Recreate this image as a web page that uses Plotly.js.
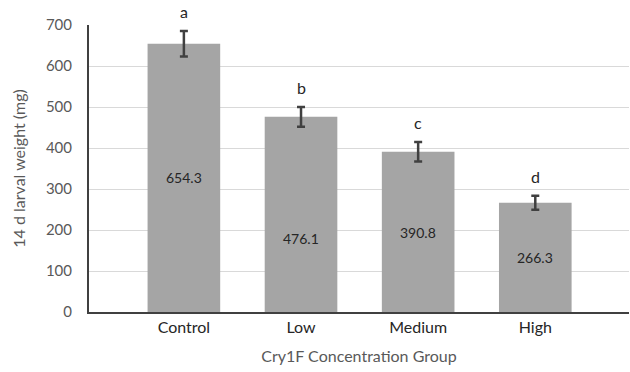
<!DOCTYPE html>
<html>
<head>
<meta charset="utf-8">
<script src="https://cdn.plot.ly/plotly-3.0.1.min.js"></script>
<style>html,body{margin:0;padding:0;background:#fff;}#chart{width:630px;height:372px;}</style>
</head>
<body>
<div id="chart"></div>
<script>
const categories = ["Control", "Low", "Medium", "High"];
const weights = [654.3, 476.1, 390.8, 266.3];
const errors = [31, 24, 24, 17];
const letters = ["a", "b", "c", "d"];
const valueLabelY = [327, 180, 195, 132];
const yTicks = [0, 100, 200, 300, 400, 500, 600, 700];

const xs = categories.map((c, i) => i);
const font = "Lato, 'Open Sans', sans-serif";

const trace = {
  type: "bar",
  x: xs,
  y: weights,
  width: 0.62,
  marker: {color: "#A5A5A5"},
  error_y: {type: "data", array: errors, visible: true, color: "#404040", thickness: 2.5, width: 4},
  hoverinfo: "none"
};

const annotations = [];
xs.forEach((x, i) => {
  annotations.push({x: x, y: weights[i] + errors[i], yshift: 8, text: letters[i], showarrow: false,
    yanchor: "bottom", font: {family: font, size: 16, color: "#262626"}});
  annotations.push({x: x, y: valueLabelY[i], text: weights[i].toFixed(1), showarrow: false,
    font: {family: font, size: 14, color: "#262626"}});
});

const layout = {
  width: 630, height: 372,
  margin: {l: 89, r: 1, t: 25, b: 60},
  paper_bgcolor: "#fff", plot_bgcolor: "#fff",
  showlegend: false,
  xaxis: {
    range: [-0.81, 3.8], tickvals: xs, ticktext: categories,
    showgrid: false, zeroline: false, showline: true, linecolor: "#404040", linewidth: 2,
    ticks: "", tickfont: {family: font, size: 16, color: "#262626"},
    title: {text: "Cry1F Concentration Group", font: {family: font, size: 16, color: "#595959"}, standoff: 16}
  },
  yaxis: {
    range: [0, 700], tickvals: yTicks, ticktext: yTicks.map(String),
    showgrid: true, gridcolor: "#D9D9D9", gridwidth: 1, zeroline: false,
    showline: true, linecolor: "#404040", linewidth: 2, ticks: "",
    ticklabelstandoff: 12,
    tickfont: {family: font, size: 15, color: "#595959"},
    title: {text: "14 d larval weight (mg)", font: {family: font, size: 16, color: "#595959"}, standoff: 16}
  },
  annotations: annotations
};

Plotly.newPlot("chart", [trace], layout, {displayModeBar: false, staticPlot: true});
</script>
</body>
</html>
